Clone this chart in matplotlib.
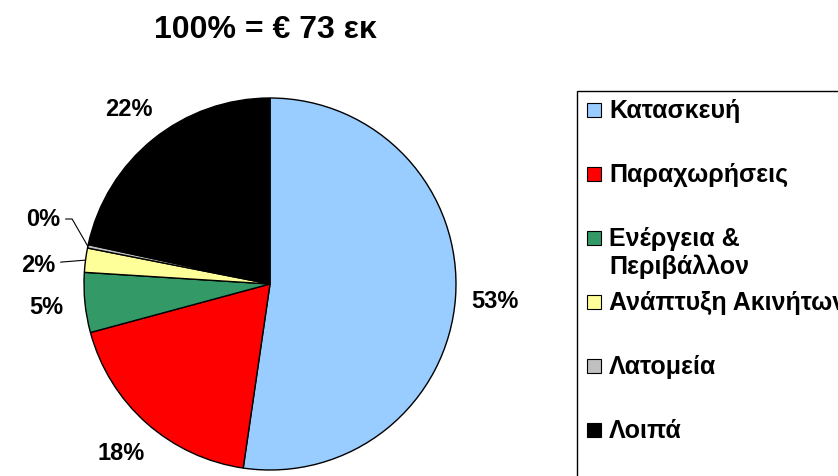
import numpy as np
import matplotlib.pyplot as plt
from matplotlib.patches import Rectangle

plt.rcParams['font.family'] = ['Liberation Sans', 'DejaVu Sans']
plt.rcParams['font.weight'] = 'bold'

title = '100% = € 73 εκ'
categories = ['Κατασκευή', 'Παραχωρήσεις', 'Ενέργεια &\nΠεριβάλλον',
              'Ανάπτυξη Ακινήτων', 'Λατομεία', 'Λοιπά']
shares = [52.3, 18.5, 5.2, 2.1, 0.3, 21.6]
labels = ['53%', '18%', '5%', '2%', '0%', '22%']
colors = ['#99CCFF', '#FF0000', '#339966', '#FFFF99', '#C0C0C0', '#000000']

W, H = 838, 477
fig = plt.figure(figsize=(W / 100, H / 100), dpi=100)
ax = fig.add_axes([0, 0, 1, 1])

cx, cy, r = 270, 192, 186
wedges, _ = ax.pie(shares, colors=colors, startangle=90, counterclock=False,
                   center=(cx, cy), radius=r, frame=True,
                   wedgeprops=dict(edgecolor='black', linewidth=1))
ax.set_xlim(0, W)
ax.set_ylim(0, H)
ax.set_aspect('auto')
ax.axis('off')

# percentage labels
for i, (w, lab) in enumerate(zip(wedges, labels)):
    th = np.deg2rad((w.theta1 + w.theta2) / 2)
    ex, ey = cx + r * np.cos(th), cy + r * np.sin(th)
    if i == 3:
        ax.annotate(lab, xy=(ex, ey), xytext=(cx - 215, cy + 20),
                    ha='right', va='center', fontsize=17, fontweight='bold',
                    arrowprops=dict(arrowstyle='-', lw=0.8, shrinkA=2, shrinkB=0))
    elif i == 4:
        ax.annotate(lab, xy=(ex, ey), xytext=(cx - 210, cy + 65),
                    ha='right', va='center', fontsize=17, fontweight='bold',
                    arrowprops=dict(arrowstyle='-', lw=0.8, shrinkA=2, shrinkB=0,
                                    connectionstyle='angle,angleA=0,angleB=120,rad=0'))
    else:
        d = 1.21 * r
        ax.text(cx + d * np.cos(th), cy + d * np.sin(th), lab,
                ha='center', va='center', fontsize=17, fontweight='bold')

ax.text(265, H - 30, title, ha='center', va='center', fontsize=23, fontweight='bold')

# legend box (runs off the right edge like the original)
ax.add_patch(Rectangle((577, -10), 400, H - 92 + 10, facecolor='white',
                       edgecolor='black', linewidth=1))
for i, (cat, col) in enumerate(zip(categories, colors)):
    y = H - 111 - i * 64
    ax.add_patch(Rectangle((587, y - 7), 14, 14, facecolor=col,
                           edgecolor='black', linewidth=0.8))
    ax.text(609, y + 12, cat, ha='left', va='top', fontsize=18,
            fontweight='bold', linespacing=1.2)

fig.savefig('out.png', dpi=100)
